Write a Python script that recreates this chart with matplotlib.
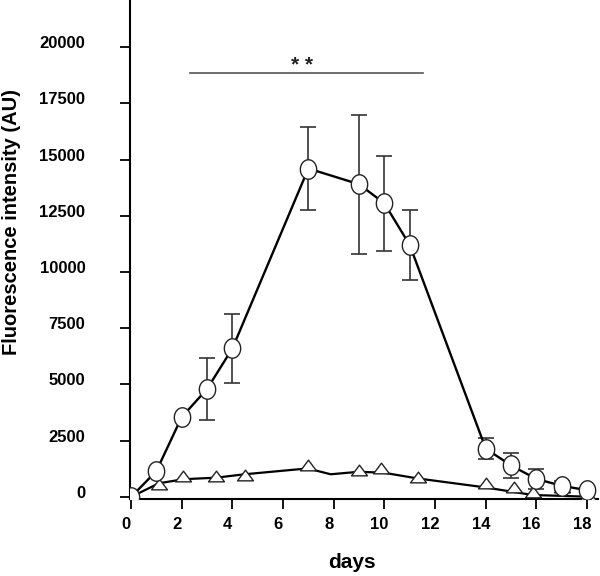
import numpy as np
import matplotlib
matplotlib.use("Agg")
import matplotlib.pyplot as plt
from matplotlib.path import Path
from matplotlib.transforms import ScaledTranslation

# circle series (mean +/- error)
days_c = [0, 1, 2, 3, 4, 7, 9, 10, 11, 14, 15, 16, 17, 18]
vals_c = [0, 1150, 3550, 4800, 6600, 14600, 13900, 13050, 11200, 2150, 1400, 800, 500, 300]
err_c = [0, 0, 0, 1380, 1530, 1860, 3100, 2100, 1560, 450, 560, 450, 200, 0]

# triangle markers
days_t = [1.1, 2.05, 3.35, 4.48, 7.0, 9.0, 9.85, 11.33, 14.0, 15.1, 15.85, 17.0, 18.05]
vals_t = [580, 930, 930, 980, 1420, 1200, 1290, 890, 620, 440, 220, 440, 90]

# line drawn for the triangle series
days_tl = [0, 1.1, 2.07, 3.37, 4.48, 6.97, 7.88, 8.99, 9.97, 11.28, 13.96, 15.84, 17.95]
vals_tl = [0, 610, 790, 860, 1010, 1270, 1010, 1120, 1080, 830, 430, 90, 15]

# significance bar
sig_x = [2.31, 11.53]
sig_y = 18830
sig_text = "* *"

xticks = list(range(0, 19, 2))
yticks = list(range(0, 20001, 2500))

plt.rcParams['font.family'] = ['Liberation Sans', 'DejaVu Sans']
plt.rcParams['font.weight'] = 'bold'

fig = plt.figure(figsize=(6, 5.76), dpi=100)
ax = fig.add_axes([130/600, 77/576, 468/600, 499/576])

# custom markers (image is slightly squashed horizontally)
t = np.linspace(0, 2*np.pi, 60)
ellipse = Path(np.column_stack([0.84*np.cos(t), np.sin(t)]), closed=True)
tri = Path([(-1, -0.67), (1, -0.67), (0, 0.67), (-1, -0.67)], closed=True)

ax.errorbar(days_c, vals_c, yerr=err_c, fmt='none', ecolor='#333333',
            elinewidth=1.2, capsize=5.8, capthick=1.2, zorder=2)
ax.plot(days_tl, vals_tl, color='black', lw=1.6, zorder=3)
ax.plot(days_t, vals_t, ls='none', marker=tri, markersize=11.5,
        mfc='white', mec='#222222', mew=1.0, zorder=4)
ax.plot(days_c, vals_c, color='black', lw=1.7, marker=ellipse, markersize=14,
        mfc='white', mec='#222222', mew=1.0, zorder=5)

ax.plot(sig_x, [sig_y, sig_y], color='#555555', lw=1.2)
ax.text(6.75, 18950, sig_text, ha='center', va='baseline', fontsize=15,
        fontweight='bold', color='#222222')

ax.set_xlim(-0.04, 18.43)
ax.set_ylim(-89, 22089)
ax.set_xticks(xticks)
ax.set_yticks(yticks)
ax.set_xticklabels([str(v) for v in xticks])
ax.set_yticklabels([str(v) for v in yticks])

for side in ['top', 'right']:
    ax.spines[side].set_visible(False)
for side in ['left', 'bottom']:
    ax.spines[side].set_linewidth(1.5)
    ax.spines[side].set_color('black')

ax.tick_params(axis='both', direction='out', length=7.2, width=1.3, labelsize=12)
ax.tick_params(axis='y', pad=25)
ax.tick_params(axis='x', pad=6)

for lab in ax.get_yticklabels():
    lab.set_transform(lab.get_transform() + ScaledTranslation(0, 0.05, fig.dpi_scale_trans))
for lab in ax.get_xticklabels():
    lab.set_transform(lab.get_transform() + ScaledTranslation(-0.05, 0, fig.dpi_scale_trans))

fig.text(12/600, 1 - 222/576, "Fluorescence intensity (AU)", rotation=90,
         ha='center', va='center', fontsize=14.5, fontweight='bold')
fig.text(352/600, 1 - 563/576, "days", ha='center', va='center',
         fontsize=15, fontweight='bold')

fig.savefig("out.png", dpi=100)
